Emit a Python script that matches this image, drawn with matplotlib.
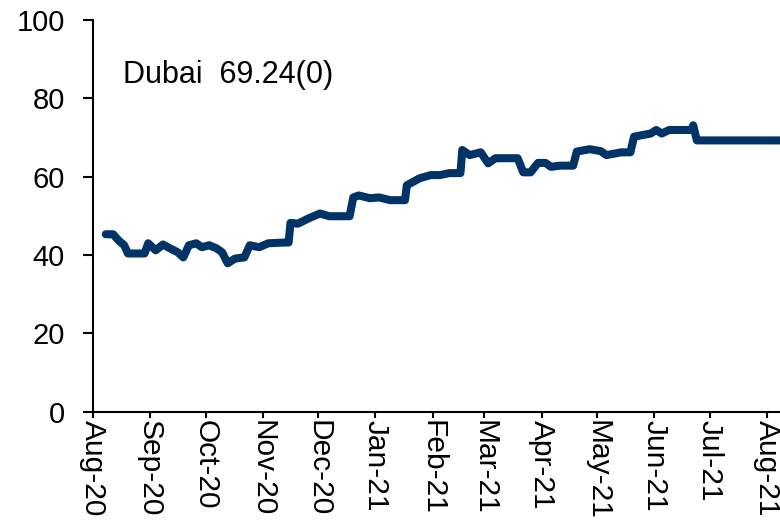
#Imports
import numpy as np
import pandas as pd
import matplotlib
matplotlib.use("Agg")
import matplotlib.pyplot as plt
import matplotlib.dates as mdates

plt.rcParams['font.family'] = ['Liberation Sans', 'DejaVu Sans']

# Dubai crude price
dates = ["2020-08-08", "2020-08-12", "2020-08-15", "2020-08-18", "2020-08-20",
         "2020-08-29", "2020-08-31", "2020-09-04", "2020-09-08", "2020-09-11",
         "2020-09-16", "2020-09-19", "2020-09-22", "2020-09-26", "2020-09-29",
         "2020-10-03", "2020-10-07", "2020-10-10", "2020-10-13", "2020-10-17",
         "2020-10-22", "2020-10-25", "2020-10-30", "2020-11-04", "2020-11-13",
         "2020-11-15", "2020-11-16", "2020-11-20", "2020-11-26", "2020-12-02",
         "2020-12-07", "2020-12-18", "2020-12-20", "2020-12-23", "2020-12-29",
         "2021-01-03", "2021-01-09", "2021-01-17", "2021-01-18", "2021-01-25",
         "2021-01-31", "2021-02-05", "2021-02-10", "2021-02-16", "2021-02-17",
         "2021-02-21", "2021-02-27", "2021-03-03", "2021-03-07", "2021-03-19",
         "2021-03-22", "2021-03-26", "2021-03-30", "2021-04-03", "2021-04-06",
         "2021-04-11", "2021-04-18", "2021-04-20", "2021-04-27", "2021-05-03",
         "2021-05-06", "2021-05-14", "2021-05-19", "2021-05-21", "2021-05-30",
         "2021-06-02", "2021-06-05", "2021-06-09", "2021-06-21", "2021-06-22",
         "2021-06-24", "2021-08-08"]
prices = [45.3, 45.3, 43.7, 42.5, 40.4,
          40.4, 43.0, 41.2, 42.7, 41.9,
          40.7, 39.4, 42.5, 43.0, 42.0,
          42.5, 41.7, 40.7, 37.9, 39.1,
          39.4, 42.5, 42.0, 43.0, 43.2,
          43.2, 48.2, 48.0, 49.4, 50.6,
          49.9, 49.9, 54.7, 55.2, 54.5,
          54.7, 54.0, 54.0, 57.8, 59.6,
          60.4, 60.4, 60.9, 60.9, 66.8,
          65.5, 66.2, 63.4, 64.7, 64.7,
          61.1, 61.1, 63.5, 63.5, 62.5,
          62.8, 62.8, 66.4, 67.0, 66.5,
          65.5, 66.2, 66.2, 70.2, 71.0,
          71.9, 71.0, 71.9, 71.9, 73.1,
          69.24, 69.24]
label = "Dubai  69.24(0)"

x = pd.to_datetime(dates)

fig = plt.figure(figsize=(7.8, 5.22), dpi=100)
ax = fig.add_axes([0.119, 0.211, 0.881, 0.751])

ax.plot(x, prices, color='#003366', linewidth=5.8, solid_joinstyle='round', solid_capstyle='round')

ax.set_ylim(0, 100)
ax.set_yticks([0, 20, 40, 60, 80, 100])
ax.set_xlim(pd.Timestamp("2020-08-01"), pd.Timestamp("2021-08-08"))
ax.xaxis.set_major_locator(mdates.MonthLocator())
ax.xaxis.set_major_formatter(mdates.DateFormatter('%b-%y'))

for side in ['top', 'right']:
    ax.spines[side].set_visible(False)
for side in ['left', 'bottom']:
    ax.spines[side].set_linewidth(1.5)

ax.tick_params(axis='y', length=7, width=1.5, labelsize=21, pad=13)
ax.tick_params(axis='x', length=4, width=1.5, labelsize=21.5, pad=2, labelrotation=-90)
for t in ax.get_xticklabels():
    t.set_va('top')
    t.set_ha('center')

ax.text(0.044, 0.839, label, transform=ax.transAxes, fontsize=22, va='baseline', ha='left')

fig.savefig("out.png", dpi=100)
